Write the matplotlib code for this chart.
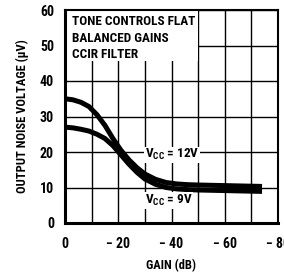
import matplotlib
matplotlib.use("Agg")
import matplotlib.pyplot as plt
from matplotlib.patches import Rectangle
from matplotlib import font_manager

# ---- data ----
gain_db = [0, -3, -6, -9, -12, -15, -18, -21, -24, -27, -30, -34, -38, -42, -46, -50, -56, -62, -68, -74]
vcc12 = [35.0, 34.7, 34.0, 32.8, 30.5, 27.5, 23.8, 20.5, 17.8, 15.6, 13.8, 12.3, 11.4, 11.0, 10.8, 10.7, 10.6, 10.5, 10.4, 10.3]
vcc9 = [27.0, 26.8, 26.4, 25.9, 25.0, 23.8, 21.8, 19.2, 16.6, 14.3, 12.4, 10.9, 10.0, 9.6, 9.4, 9.3, 9.2, 9.1, 9.0, 8.9]
xticks = [0, -20, -40, -60, -80]
xticklabels = ["0", "\u2212 20", "\u2212 40", "\u2212 60", "\u2212 80"]
yticks = [0, 10, 20, 30, 40, 50, 60]
box_lines = ["TONE CONTROLS FLAT", "BALANCED GAINS", "CCIR FILTER"]
label12 = "V$_{\\mathregular{CC}}$ = 12V"
label9 = "V$_{\\mathregular{CC}}$ = 9V"

names = {f.name for f in font_manager.fontManager.ttflist}
cands = ['Liberation Sans Narrow', 'DejaVu Sans Condensed', 'Roboto Condensed',
         'Open Sans Condensed', 'Noto Sans Condensed']
fams = [c for c in cands if c in names] + ['DejaVu Sans']
plt.rcParams['font.family'] = fams
plt.rcParams['font.stretch'] = 'condensed'
plt.rcParams['font.weight'] = 'bold'
plt.rcParams['mathtext.default'] = 'regular'

fig = plt.figure(figsize=(2.84, 2.73), dpi=100)
ax = fig.add_axes([65/284, 1-223/273, (278-65)/284, (223-10)/273])

ax.set_xlim(0, -80)
ax.set_ylim(0, 60)
ax.set_xticks(xticks)
ax.set_xticklabels(xticklabels)
ax.set_xticks(list(range(0, -81, -10)), minor=True)
ax.set_yticks(yticks)
ax.tick_params(which='both', length=0, labelsize=10, pad=8)
ax.tick_params(axis='x', pad=10)
ax.grid(True, which='both', color='black', linewidth=1.0)
ax.set_axisbelow(True)

for s in ['left', 'bottom']:
    ax.spines[s].set_linewidth(2.2)
for s in ['top', 'right']:
    ax.spines[s].set_linewidth(1.5)

ax.add_patch(Rectangle((0, 45.5), -50, 14.5, facecolor='white', edgecolor='none', zorder=1))

ax.plot(gain_db, vcc12, color='black', linewidth=3.6, solid_capstyle='butt', zorder=2)
ax.plot(gain_db, vcc9, color='black', linewidth=3.6, solid_capstyle='butt', zorder=2)

for i, t in enumerate(box_lines):
    ax.text(-2.5, 56.7 - i * 4.65, t, fontsize=9.5, fontweight='bold', va='center', ha='left', zorder=3)

ax.text(-30, 19.2, label12, fontsize=9.5, fontweight='bold', va='center', ha='left', zorder=3,
        bbox=dict(facecolor='white', edgecolor='none', pad=0.5))
ax.text(-30, 6.3, label9, fontsize=9.5, fontweight='bold', va='center', ha='left', zorder=3,
        bbox=dict(facecolor='white', edgecolor='none', pad=0.5))

ax.set_xlabel("GAIN (dB)", fontsize=9, fontweight='bold', labelpad=6)
ax.set_ylabel("OUTPUT NOISE VOLTAGE (\u03bcV)", fontsize=9, fontweight='bold', labelpad=8)

fig.savefig("out.png", dpi=100)
